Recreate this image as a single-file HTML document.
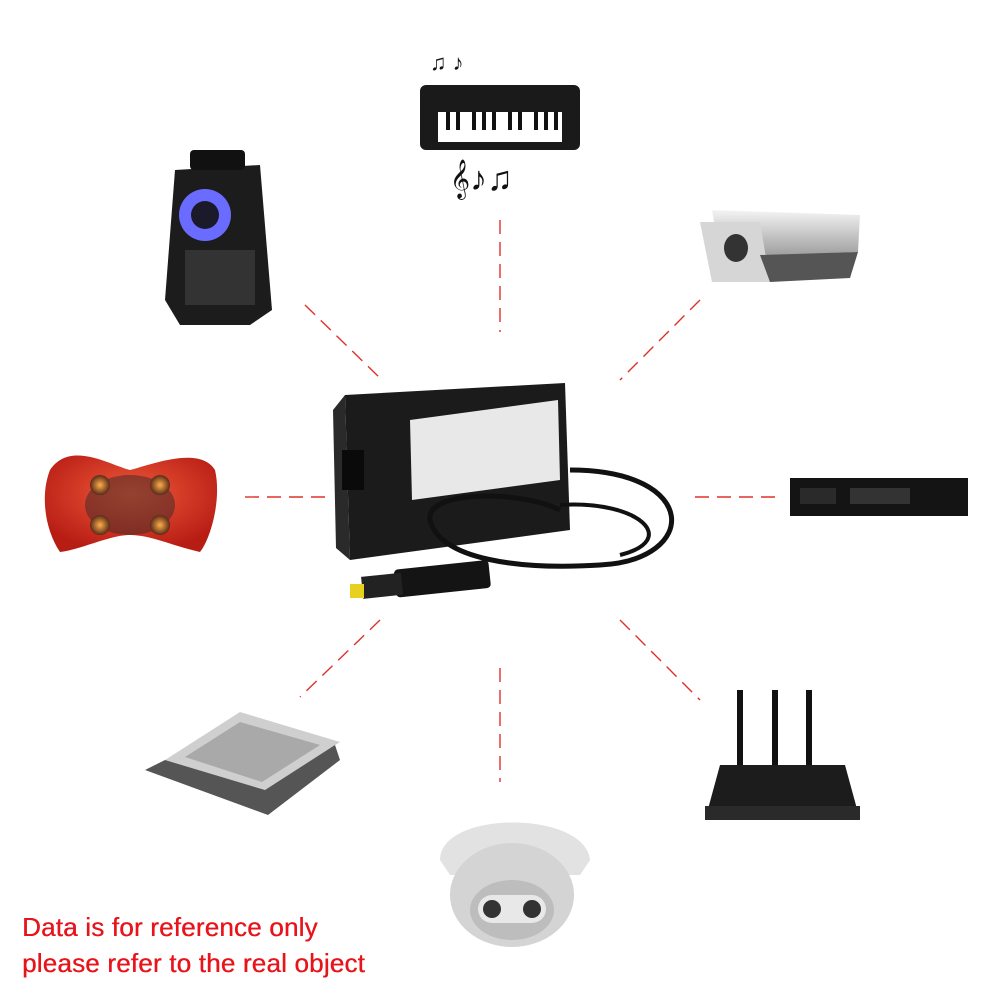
<!DOCTYPE html>
<html><head><meta charset="utf-8"><style>
html,body{margin:0;padding:0;background:#fff;}
body{width:1000px;height:1000px;position:relative;overflow:hidden;font-family:"Liberation Sans",sans-serif;}
.t{position:absolute;left:22px;color:#e8141b;font-size:26px;line-height:36px;letter-spacing:0.2px;text-shadow:0.4px 0 0 #e8141b;}
</style></head><body>
<svg width="1000" height="1000" style="position:absolute;left:0;top:0">
<defs>
<linearGradient id="sil" x1="0" y1="0" x2="0" y2="1"><stop offset="0" stop-color="#f4f4f4"/><stop offset="1" stop-color="#9a9a9a"/></linearGradient>
<radialGradient id="red" cx="0.5" cy="0.4" r="0.6"><stop offset="0" stop-color="#ef5a3a"/><stop offset="1" stop-color="#b81d14"/></radialGradient>
<radialGradient id="glow" cx="0.5" cy="0.5" r="0.5"><stop offset="0" stop-color="#ffb04a"/><stop offset="1" stop-color="#5a2a18"/></radialGradient>
</defs>
<g stroke="#e0302a" stroke-width="1.4" stroke-dasharray="14,8" fill="none">
<line x1="500" y1="220" x2="500" y2="332"/>
<line x1="305" y1="305" x2="382" y2="380"/>
<line x1="700" y1="300" x2="620" y2="380"/>
<line x1="245" y1="497" x2="332" y2="497"/>
<line x1="695" y1="497" x2="782" y2="497"/>
<line x1="380" y1="620" x2="300" y2="697"/>
<line x1="500" y1="668" x2="500" y2="782"/>
<line x1="620" y1="620" x2="700" y2="700"/>
</g>
<!-- adapter -->
<path d="M345 395 L565 383 L570 530 L350 560 Z" fill="#1b1b1b"/>
<path d="M333 410 L345 395 L350 560 L336 548 Z" fill="#2a2a2a"/>
<path d="M410 420 L558 400 L560 480 L412 500 Z" fill="#e8e8e8"/>
<rect x="342" y="450" width="22" height="40" fill="#0a0a0a"/>
<path d="M570 470 C700 470 700 560 600 565 C520 570 440 560 430 520 C425 490 520 490 560 510" stroke="#111" stroke-width="5" fill="none"/>
<path d="M560 505 C640 500 680 540 620 555" stroke="#111" stroke-width="4" fill="none"/>
<rect x="395" y="565" width="95" height="28" rx="4" fill="#141414" transform="rotate(-6 440 580)"/>
<rect x="362" y="575" width="40" height="22" fill="#222" transform="rotate(-6 380 585)"/>
<rect x="350" y="584" width="14" height="14" fill="#e8d020"/>
<!-- keyboard -->
<rect x="420" y="85" width="160" height="65" rx="6" fill="#1a1a1a"/>
<rect x="438" y="112" width="124" height="30" fill="#fff"/>
<g fill="#111"><rect x="446" y="112" width="4" height="18"/><rect x="456" y="112" width="4" height="18"/><rect x="472" y="112" width="4" height="18"/><rect x="482" y="112" width="4" height="18"/><rect x="492" y="112" width="4" height="18"/><rect x="508" y="112" width="4" height="18"/><rect x="518" y="112" width="4" height="18"/><rect x="534" y="112" width="4" height="18"/><rect x="544" y="112" width="4" height="18"/><rect x="554" y="112" width="4" height="18"/></g>
<text x="430" y="70" font-size="22" fill="#111">♫ ♪</text>
<text x="450" y="190" font-size="34" fill="#111">𝄞♪♫</text>
<!-- speaker -->
<path d="M175 170 L260 165 L272 310 L250 325 L180 325 L165 300 Z" fill="#1c1c1c"/>
<rect x="190" y="150" width="55" height="20" rx="4" fill="#111"/>
<circle cx="205" cy="215" r="26" fill="#6a6cff"/><circle cx="205" cy="215" r="14" fill="#1a1a2a"/>
<rect x="185" y="250" width="70" height="55" fill="#333"/>
<!-- bullet camera -->
<path d="M712 210 L860 215 L858 252 L720 258 Z" fill="url(#sil)"/>
<path d="M700 222 L760 222 L770 282 L712 282 Z" fill="#d6d6d6"/>
<ellipse cx="736" cy="248" rx="12" ry="14" fill="#333"/>
<path d="M760 255 L858 252 L850 278 L770 282 Z" fill="#555"/>
<!-- pillow -->
<path d="M50 470 C70 440 110 465 130 470 C150 465 200 445 215 470 C222 500 210 540 200 552 C170 545 150 535 130 535 C110 535 80 550 60 552 C45 530 40 495 50 470 Z" fill="url(#red)"/>
<ellipse cx="130" cy="505" rx="45" ry="30" fill="#3a2a28" opacity="0.5"/>
<circle cx="100" cy="485" r="10" fill="url(#glow)"/><circle cx="160" cy="485" r="10" fill="url(#glow)"/><circle cx="100" cy="525" r="10" fill="url(#glow)"/><circle cx="160" cy="525" r="10" fill="url(#glow)"/>
<!-- receiver -->
<rect x="790" y="478" width="178" height="38" fill="#141414"/>
<rect x="850" y="488" width="60" height="16" fill="#333"/>
<rect x="800" y="488" width="36" height="16" fill="#2a2a2a"/>
<!-- scanner -->
<path d="M165 760 L240 712 L340 742 L265 790 Z" fill="#cfcfcf"/>
<path d="M145 770 L165 760 L265 790 L335 745 L340 760 L268 815 Z" fill="#555"/>
<path d="M185 757 L240 722 L320 745 L262 782 Z" fill="#a9a9a9"/>
<!-- router -->
<rect x="737" y="690" width="6" height="80" fill="#111"/><rect x="772" y="690" width="6" height="80" fill="#111"/><rect x="806" y="690" width="6" height="80" fill="#111"/>
<path d="M720 765 L845 765 L860 820 L705 820 Z" fill="#1c1c1c"/>
<rect x="705" y="806" width="155" height="14" fill="#2a2a2a"/>
<!-- dome camera -->
<path d="M440 860 C440 810 585 810 590 860 L580 875 L450 875 Z" fill="#e2e2e2"/>
<ellipse cx="512" cy="895" rx="62" ry="52" fill="#d4d4d4"/>
<ellipse cx="512" cy="910" rx="42" ry="30" fill="#bdbdbd"/>
<rect x="478" y="895" width="68" height="28" rx="14" fill="#e8e8e8"/>
<circle cx="492" cy="909" r="9" fill="#333"/><circle cx="532" cy="909" r="9" fill="#333"/>
</svg>
<div class="t" style="top:909px">Data is for reference only</div>
<div class="t" style="top:945px">please refer to the real object</div>
</body></html>
